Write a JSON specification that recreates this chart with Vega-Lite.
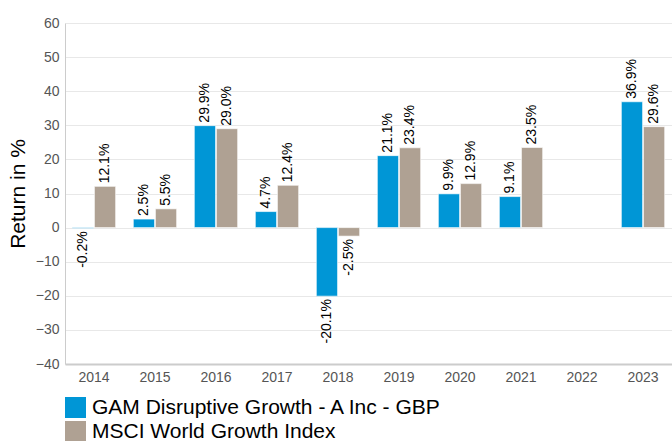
{
  "$schema": "https://vega.github.io/schema/vega-lite/v6.json",
  "autosize": {"type": "none"},
  "padding": {"left": 65, "top": 23, "right": 0, "bottom": 77},
  "width": 607,
  "height": 341,
  "background": "white",
  "config": {
    "font": "Liberation Sans",
    "view": {"stroke": null}
  },
  "data": {
    "values": [
      {"year": "2014", "series": "GAM Disruptive Growth - A Inc - GBP", "value": -0.2, "label": "-0.2%"},
      {"year": "2014", "series": "MSCI World Growth Index", "value": 12.1, "label": "12.1%"},
      {"year": "2015", "series": "GAM Disruptive Growth - A Inc - GBP", "value": 2.5, "label": "2.5%"},
      {"year": "2015", "series": "MSCI World Growth Index", "value": 5.5, "label": "5.5%"},
      {"year": "2016", "series": "GAM Disruptive Growth - A Inc - GBP", "value": 29.9, "label": "29.9%"},
      {"year": "2016", "series": "MSCI World Growth Index", "value": 29.0, "label": "29.0%"},
      {"year": "2017", "series": "GAM Disruptive Growth - A Inc - GBP", "value": 4.7, "label": "4.7%"},
      {"year": "2017", "series": "MSCI World Growth Index", "value": 12.4, "label": "12.4%"},
      {"year": "2018", "series": "GAM Disruptive Growth - A Inc - GBP", "value": -20.1, "label": "-20.1%"},
      {"year": "2018", "series": "MSCI World Growth Index", "value": -2.5, "label": "-2.5%"},
      {"year": "2019", "series": "GAM Disruptive Growth - A Inc - GBP", "value": 21.1, "label": "21.1%"},
      {"year": "2019", "series": "MSCI World Growth Index", "value": 23.4, "label": "23.4%"},
      {"year": "2020", "series": "GAM Disruptive Growth - A Inc - GBP", "value": 9.9, "label": "9.9%"},
      {"year": "2020", "series": "MSCI World Growth Index", "value": 12.9, "label": "12.9%"},
      {"year": "2021", "series": "GAM Disruptive Growth - A Inc - GBP", "value": 9.1, "label": "9.1%"},
      {"year": "2021", "series": "MSCI World Growth Index", "value": 23.5, "label": "23.5%"},
      {"year": "2023", "series": "GAM Disruptive Growth - A Inc - GBP", "value": 36.9, "label": "36.9%"},
      {"year": "2023", "series": "MSCI World Growth Index", "value": 29.6, "label": "29.6%"}
    ]
  },
  "encoding": {
    "x": {
      "field": "year",
      "type": "nominal",
      "scale": {"domain": ["2014","2015","2016","2017","2018","2019","2020","2021","2022","2023"], "paddingInner": 0.29, "paddingOuter": 0.12},
      "axis": {
        "title": null,
        "labelAngle": 0,
        "labelFontSize": 14,
        "labelColor": "#555555",
        "labelPadding": 6,
        "ticks": false,
        "domainColor": "#cccccc",
        "domainWidth": 2
      }
    },
    "xOffset": {"field": "series", "type": "nominal", "scale": {"paddingInner": 0.04}},
    "y": {
      "field": "value",
      "type": "quantitative",
      "scale": {"domain": [-40, 60], "nice": false},
      "axis": {
        "title": "Return in %",
        "titleFontSize": 21,
        "titleFontWeight": "normal",
        "titleColor": "#000000",
        "titlePadding": 7,
        "values": [-40,-30,-20,-10,0,10,20,30,40,50,60],
        "labelFontSize": 14,
        "labelColor": "#555555",
        "labelPadding": 6,
        "ticks": false,
        "domainColor": "#cccccc",
        "domainWidth": 1,
        "gridColor": "#e8e8e8",
        "gridWidth": 1
      }
    }
  },
  "layer": [
    {
      "mark": {"type": "bar", "stroke": "white", "strokeWidth": 0.6},
      "encoding": {
        "color": {
          "field": "series",
          "type": "nominal",
          "scale": {"domain": ["GAM Disruptive Growth - A Inc - GBP", "MSCI World Growth Index"], "range": ["#0096d6", "#afa193"]},
          "legend": {
            "title": null,
            "orient": "bottom",
            "direction": "vertical",
            "symbolType": "square",
            "symbolSize": 440,
            "symbolStrokeWidth": 0,
            "labelFontSize": 21,
            "labelLimit": 0,
            "labelColor": "#000000",
            "rowPadding": 2,
            "labelOffset": 6,
            "offset": 13,
            "padding": 0
          }
        }
      }
    },
    {
      "transform": [{"filter": "datum.value >= 0"}],
      "mark": {"type": "text", "angle": 270, "align": "left", "baseline": "middle", "dx": 3, "fontSize": 14, "color": "#000000"},
      "encoding": {"text": {"field": "label"}}
    },
    {
      "transform": [{"filter": "datum.value < 0"}],
      "mark": {"type": "text", "angle": 270, "align": "right", "baseline": "middle", "dx": -3, "fontSize": 14, "color": "#000000"},
      "encoding": {"text": {"field": "label"}}
    }
  ]
}
